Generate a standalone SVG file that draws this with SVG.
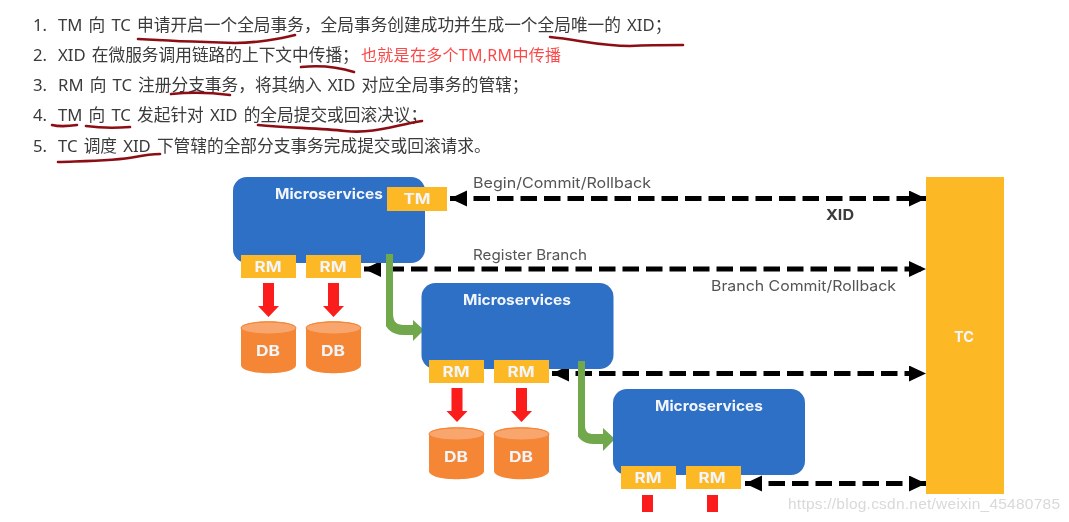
<svg xmlns="http://www.w3.org/2000/svg" width="1069" height="522" viewBox="0 0 1069 522">
<style>
.t{font-family:"Noto Sans","Noto Sans CJK SC",sans-serif;font-size:16.7px;word-spacing:1.8px;fill:#3a3a3a}
.ms{fill:#2f6fc6}
.y{fill:#fdb827}
.w{font-family:"Inter","Liberation Sans",sans-serif;font-weight:700;font-size:14.5px;fill:#f2f6fb;text-anchor:middle}
.l{font-family:"Inter","Liberation Sans",sans-serif;font-size:14.5px;fill:#555}
.ink{fill:none;stroke:#8c0f14;stroke-width:2.6;stroke-linecap:round}
.dash{fill:none;stroke:#000;stroke-width:5;stroke-dasharray:16.500 7}
.gr{fill:none;stroke:#70a84c;stroke-width:10}
</style>
<defs>
<marker id="ah" markerUnits="userSpaceOnUse" markerWidth="20" markerHeight="18" refX="17" refY="8" orient="auto-start-reverse"><path d="M0 0L17 8L0 16Z" fill="#000"/></marker>
<g id="red"><path d="M-5.500 0H5.500V23H10.500L0 34L-10.500 23H-5.500Z" fill="#fb1a1a"/></g>
<g id="db"><path d="M0 7C0 -2 55 -2 55 7V44C55 55 0 55 0 44Z" fill="#f58634"/><ellipse cx="27.500" cy="7" rx="27.500" ry="6" fill="#f9a66e" stroke="#f58634"/></g>
<filter id="b" x="-5%" y="-5%" width="110%" height="110%"><feGaussianBlur stdDeviation="0.45"/></filter>
</defs>
<rect width="1069" height="522" fill="#fff"/>
<g id="list" filter="url(#b)">
<text class="t" x="33" y="31">1.</text><text class="t" x="58" y="31">TM 向 TC 申请开启一个全局事务，全局事务创建成功并生成一个全局唯一的 XID；</text>
<text class="t" x="33" y="61">2.</text><text class="t" x="58" y="61">XID 在微服务调用链路的上下文中传播；</text>
<text x="361" y="61" font-family="'Noto Sans','Noto Sans CJK SC',sans-serif" font-size="16" fill="#fb4a4a" textLength="200">也就是在多个TM,RM中传播</text>
<text class="t" x="33" y="91">3.</text><text class="t" x="58" y="91">RM 向 TC 注册分支事务，将其纳入 XID 对应全局事务的管辖；</text>
<text class="t" x="33" y="121">4.</text><text class="t" x="58" y="121">TM 向 TC 发起针对 XID 的全局提交或回滚决议；</text>
<text class="t" x="33" y="152">5.</text><text class="t" x="58" y="152">TC 调度 XID 下管辖的全部分支事务完成提交或回滚请求。</text>
</g>
<g id="handwriting" filter="url(#b)">
<path class="ink" d="M138 39C170 41 200 42 235 43C255 43 280 39 295 35"/>
<path class="ink" d="M550 37C580 40 600 46 630 46C650 45 665 45 683 45"/>
<path class="ink" d="M301 67C320 65 335 66 354 72"/>
<path class="ink" d="M171 94C190 92 215 93 230 95"/>
<path class="ink" d="M52 125C60 127 70 126 77 125"/>
<path class="ink" d="M86 126C100 128 118 128 130 127"/>
<path class="ink" d="M258 125C290 128 320 128 345 131C375 134 395 125 422 121"/>
<path class="ink" d="M58 162C85 161 115 161 135 157C145 155 150 154 160 154"/>
</g>
<g id="connectors" filter="url(#b)">
<path class="dash" d="M450 198.500H926" marker-start="url(#ah)" marker-end="url(#ah)"/>
<path class="dash" d="M364 269H926" marker-start="url(#ah)" marker-end="url(#ah)"/>
<path class="dash" d="M552 373.500H926" marker-start="url(#ah)" marker-end="url(#ah)"/>
<path class="dash" d="M745 483.500H926" marker-start="url(#ah)" marker-end="url(#ah)"/>
</g>
<g id="labels" filter="url(#b)">
<text class="l" x="473" y="188" textLength="178" lengthAdjust="spacingAndGlyphs">Begin/Commit/Rollback</text>
<text x="826" y="220" font-family="Inter,'Liberation Sans',sans-serif" font-size="14.500" font-weight="700" fill="#3a3a3a" textLength="28" lengthAdjust="spacingAndGlyphs">XID</text>
<text class="l" x="473" y="260" textLength="114" lengthAdjust="spacingAndGlyphs">Register Branch</text>
<text class="l" x="711" y="291" textLength="185" lengthAdjust="spacingAndGlyphs">Branch Commit/Rollback</text>
</g>
<g id="ms1" filter="url(#b)">
<rect class="ms" x="233" y="177" width="192" height="86" rx="14"/>
<text class="w" x="329" y="199" textLength="108" lengthAdjust="spacingAndGlyphs">Microservices</text>
</g>
<g id="flow1" filter="url(#b)">
<path class="gr" d="M388 254V313Q388 330 404 330H414"/><path d="M413 320L424 330L413 341Z" fill="#70a84c"/>
</g>
<g id="tm" filter="url(#b)"><rect class="y" x="387" y="187" width="60" height="24"/><text class="w" x="417" y="204" textLength="27" lengthAdjust="spacingAndGlyphs">TM</text></g>
<g id="rm1a" filter="url(#b)"><rect class="y" x="241" y="255" width="55" height="23"/><text class="w" x="268" y="272" textLength="27" lengthAdjust="spacingAndGlyphs">RM</text></g>
<g id="rm1b" filter="url(#b)"><rect class="y" x="306" y="255" width="55" height="23"/><text class="w" x="333" y="272" textLength="27" lengthAdjust="spacingAndGlyphs">RM</text></g>
<g id="db1a" filter="url(#b)"><use href="#red" x="268.500" y="283"/><use href="#db" x="241" y="321"/><text class="w" x="268" y="356" textLength="24" lengthAdjust="spacingAndGlyphs">DB</text></g>
<g id="db1b" filter="url(#b)"><use href="#red" x="333.500" y="283"/><use href="#db" x="306" y="321"/><text class="w" x="333" y="356" textLength="24" lengthAdjust="spacingAndGlyphs">DB</text></g>
<g id="ms2" filter="url(#b)">
<rect class="ms" x="421.500" y="283" width="192" height="86" rx="14"/>
<text class="w" x="517" y="305" textLength="108" lengthAdjust="spacingAndGlyphs">Microservices</text>
</g>
<g id="flow2" filter="url(#b)">
<path class="gr" d="M580 361V425Q580 439 594 439H604"/><path d="M603 428L615 439L603 451Z" fill="#70a84c"/>
</g>
<g id="rm2a" filter="url(#b)"><rect class="y" x="429" y="360" width="55" height="23"/><text class="w" x="456" y="377" textLength="27" lengthAdjust="spacingAndGlyphs">RM</text></g>
<g id="rm2b" filter="url(#b)"><rect class="y" x="494" y="360" width="55" height="23"/><text class="w" x="521" y="377" textLength="27" lengthAdjust="spacingAndGlyphs">RM</text></g>
<g id="db2a" filter="url(#b)"><use href="#red" x="457" y="388"/><use href="#db" x="429" y="427"/><text class="w" x="456" y="462" textLength="24" lengthAdjust="spacingAndGlyphs">DB</text></g>
<g id="db2b" filter="url(#b)"><use href="#red" x="521.500" y="388"/><use href="#db" x="494" y="427"/><text class="w" x="521" y="462" textLength="24" lengthAdjust="spacingAndGlyphs">DB</text></g>
<g id="ms3" filter="url(#b)">
<rect class="ms" x="613" y="389" width="192" height="86" rx="14"/>
<text class="w" x="709" y="411" textLength="108" lengthAdjust="spacingAndGlyphs">Microservices</text>
</g>
<g id="rm3a" filter="url(#b)"><rect class="y" x="621" y="466" width="55" height="23"/><text class="w" x="648" y="483" textLength="27" lengthAdjust="spacingAndGlyphs">RM</text></g>
<g id="rm3b" filter="url(#b)"><rect class="y" x="686" y="466" width="55" height="23"/><text class="w" x="712" y="483" textLength="27" lengthAdjust="spacingAndGlyphs">RM</text></g>
<g id="red3" filter="url(#b)"><rect x="642" y="495" width="11" height="17" fill="#fb1a1a"/><rect x="707" y="495" width="11" height="17" fill="#fb1a1a"/></g>
<g id="tc" filter="url(#b)"><rect class="y" x="926" y="177" width="78" height="317"/><text class="w" x="964" y="342" textLength="20" lengthAdjust="spacingAndGlyphs">TC</text></g>
<text x="788" y="509" font-family="'Liberation Sans',sans-serif" font-size="15.500" fill="#d9d9d9" filter="url(#b)" textLength="272">https://blog.csdn.net/weixin_45480785</text>
</svg>
